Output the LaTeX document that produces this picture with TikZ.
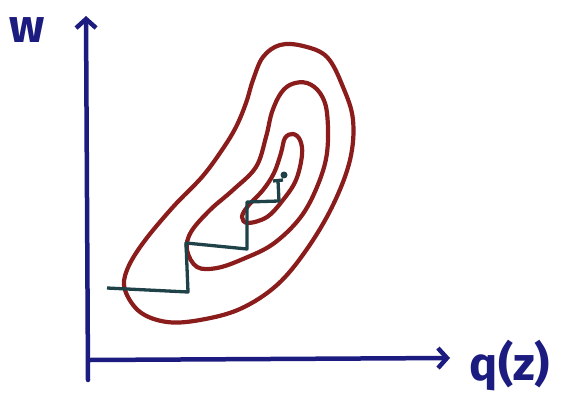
\documentclass[tikz,border=0pt]{standalone}
\usepackage{fontspec}
\setmainfont{Fira Sans}
\usetikzlibrary{arrows.meta}
\definecolor{axisblue}{HTML}{1C1C80}
\definecolor{contred}{HTML}{8A1C1C}
\definecolor{pathteal}{HTML}{1E4248}
\tikzset{
  axisline/.style={draw=axisblue, line width=4.5pt, line cap=round, -{Straight Barb[length=9pt,width=20pt,line width=4.5pt]}},
  contour/.style={draw=contred, line width=4.2pt},
  zigzag/.style={draw=pathteal, line width=3.3pt, line join=round},
  axislabel/.style={text=axisblue, font=\fontsize{47}{47}\selectfont\bfseries, inner sep=0pt}
}
\begin{document}
\begin{tikzpicture}[x=1pt,y=-1pt]
\useasboundingbox (0,0) rectangle (561,403);
% axes
\coordinate (o1) at (88,380);
\coordinate (ytip) at (86,16);
\coordinate (o2) at (90,360);
\coordinate (xtip) at (450,358);
\draw[axisline] (o1) -- (ytip);
\draw[axisline] (o2) -- (xtip);
\node[axislabel] (wl) at (27,30) {w};
\node[axislabel] (ql) at (510,366) {q(z)};
% contours
\draw[contour] plot[smooth cycle, tension=0.6] coordinates {
 (125,290) (140,312) (167,322) (200,320) (240,309) (277,285) (307,249)
 (333,205) (350,160) (353,120) (343,87) (327,57) (303,46) (280,45)
 (263,57) (253,80) (246,103) (236,127) (222,150) (202,177) (173,207)
 (143,243) (127,270)};
\draw[contour] plot[smooth cycle, tension=0.6] coordinates {
 (187,250) (197,267) (217,268) (243,259) (273,244) (300,218) (317,187)
 (327,153) (327,113) (320,93) (307,83) (292,84) (281,93) (272,112)
 (266,137) (256,167) (233,190) (210,210) (191,232)};
\draw[contour] plot[smooth cycle, tension=0.6] coordinates {
 (242,217) (248,223) (267,217) (283,200) (296,180) (302,155) (300,140)
 (293,134) (285,138) (281,153) (274,173) (263,190) (248,206)};
% zigzag path
\coordinate (z0) at (107,288);
\coordinate (z1) at (188,292);
\coordinate (z2) at (186,243);
\coordinate (z3) at (247,249);
\coordinate (z4) at (247,202);
\coordinate (z5) at (279,201);
\coordinate (z6) at (278,181);
\draw[zigzag] (z0) -- (z1) -- (z2) -- (z3) -- (z4) -- (z5) -- (z6);
\draw[zigzag] (273,181) -- (283,180);
\fill[pathteal] (284,175) circle (3.5pt);
\end{tikzpicture}
\end{document}
